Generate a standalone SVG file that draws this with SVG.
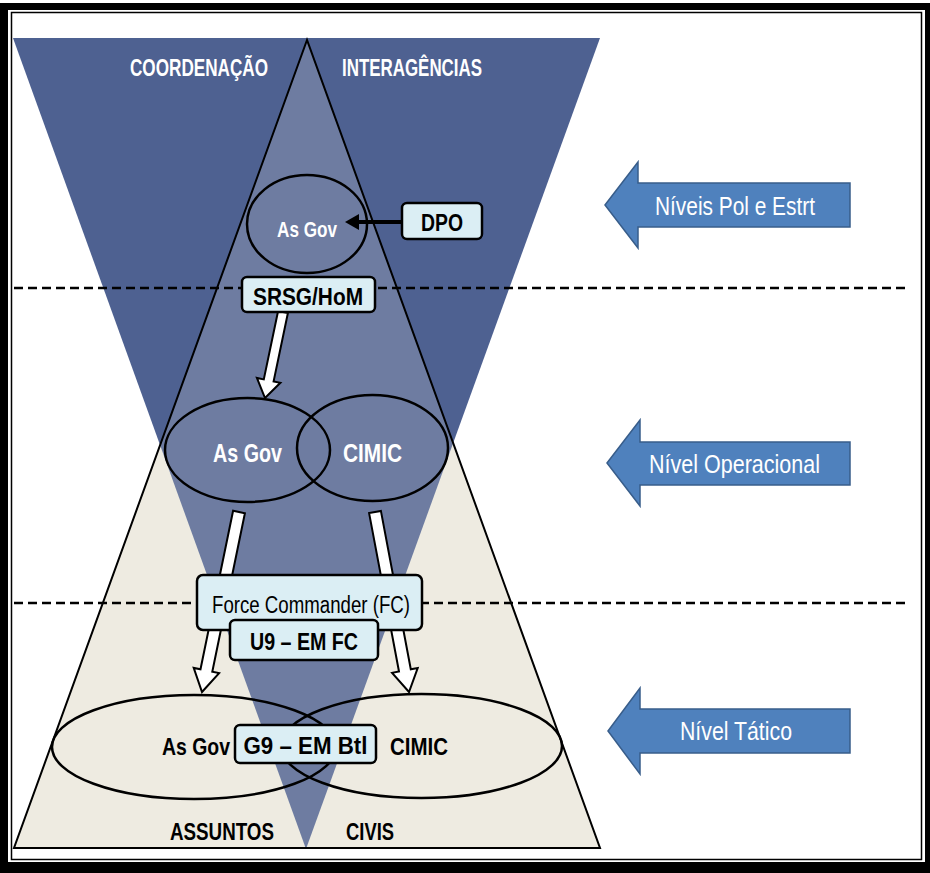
<svg xmlns="http://www.w3.org/2000/svg" width="930" height="873" viewBox="0 0 930 873">
<style>
text{font-family:"Liberation Sans",Arial,sans-serif;}
.wb{fill:#fff;font-weight:bold;}
.kb{fill:#000;font-weight:bold;}
.box{fill:#dbeef4;stroke:#000;stroke-width:2.5;}
.ell{fill:none;stroke:#000;stroke-width:2.5;}
.dash{stroke:#000;stroke-width:2.5;stroke-dasharray:9 5;fill:none;}
.hollow{fill:#fff;stroke:#000;stroke-width:2;stroke-linejoin:miter;}
.lvl{fill:#4f81bd;stroke:#385d8a;stroke-width:1.5;}
.lt{fill:#fff;font-size:26px;}
</style>
<g id="frame">
<rect x="0" y="3" width="930" height="870" fill="#000"/>
<rect x="8" y="10" width="917" height="852" fill="#fff"/>
<rect x="11.5" y="12.5" width="910" height="847" fill="none" stroke="#000" stroke-width="1.5"/>
</g>
<g id="background">
<polygon points="307,40 14,848 600,848" fill="#eeece1"/>
<polygon points="13,38 600,38 306,849" fill="#4e6191"/>
<polygon points="307,40 14,848 600,848" fill="#eeece1" fill-opacity="0.2" stroke="#000" stroke-width="2"/>
<text class="wb" x="199" y="76" font-size="24" text-anchor="middle" textLength="138" lengthAdjust="spacingAndGlyphs">COORDENAÇÃO</text>
<text class="wb" x="412" y="76" font-size="24" text-anchor="middle" textLength="140" lengthAdjust="spacingAndGlyphs">INTERAGÊNCIAS</text>
<text class="kb" x="222" y="840" font-size="24" text-anchor="middle" textLength="104" lengthAdjust="spacingAndGlyphs">ASSUNTOS</text>
<text class="kb" x="370" y="840" font-size="24" text-anchor="middle" textLength="48" lengthAdjust="spacingAndGlyphs">CIVIS</text>
<line class="dash" x1="14" y1="288" x2="905" y2="288"/>
<line class="dash" x1="14" y1="603" x2="905" y2="603"/>
</g>
<g id="connectors">
<polygon class="hollow" points="287.9,313 273.6,381.4 280.4,382.8 265,398 256.9,377.9 263.8,379.4 278.1,311"/>
<polygon class="hollow" points="244.9,513.2 212.3,671.7 219.1,673.1 202,692 193.7,667.9 200.5,669.3 233.1,510.8"/>
<polygon class="hollow" points="380.9,510.9 410.8,669.3 417.7,668 409,692 392.1,672.8 399,671.5 369.1,513.1"/>
<line x1="402" y1="222" x2="356" y2="222" stroke="#000" stroke-width="4"/>
<polygon points="345,222 359,214 359,230" fill="#000"/>
</g>
<g id="asgov-top">
<ellipse class="ell" cx="307" cy="224" rx="60" ry="49"/>
<text class="wb" x="307" y="237" font-size="22" text-anchor="middle" textLength="60" lengthAdjust="spacingAndGlyphs">As Gov</text>
</g>
<g id="dpo">
<rect class="box" x="402" y="203" width="80" height="36" rx="5"/>
<text class="kb" x="442" y="231" font-size="24" text-anchor="middle" textLength="42" lengthAdjust="spacingAndGlyphs">DPO</text>
</g>
<g id="srsg">
<rect class="box" x="242" y="277" width="133" height="35" rx="5"/>
<text class="kb" x="308" y="305" font-size="24" text-anchor="middle" textLength="110" lengthAdjust="spacingAndGlyphs">SRSG/HoM</text>
</g>
<g id="asgov-op">
<ellipse class="ell" cx="247.5" cy="450" rx="82.5" ry="52"/>
<text class="wb" x="247.5" y="462" font-size="25" text-anchor="middle" textLength="69" lengthAdjust="spacingAndGlyphs">As Gov</text>
</g>
<g id="cimic-op">
<ellipse class="ell" cx="372.5" cy="448" rx="75.5" ry="53"/>
<text class="wb" x="372.5" y="462" font-size="25" text-anchor="middle" textLength="59" lengthAdjust="spacingAndGlyphs">CIMIC</text>
</g>
<g id="fc">
<rect class="box" x="197" y="575" width="225" height="55" rx="6"/>
<text x="311" y="613" font-size="23" text-anchor="middle" textLength="198" lengthAdjust="spacingAndGlyphs" fill="#000">Force Commander (FC)</text>
</g>
<g id="u9">
<rect class="box" x="230" y="620" width="148" height="40" rx="5"/>
<text class="kb" x="304" y="650" font-size="24" text-anchor="middle" textLength="108" lengthAdjust="spacingAndGlyphs">U9 – EM FC</text>
</g>
<g id="asgov-tat">
<ellipse class="ell" cx="194" cy="747" rx="142" ry="52"/>
<text class="kb" x="196" y="755" font-size="24" text-anchor="middle" textLength="68" lengthAdjust="spacingAndGlyphs">As Gov</text>
</g>
<g id="cimic-tat">
<ellipse class="ell" cx="421.5" cy="746" rx="140.5" ry="52"/>
<text class="kb" x="419" y="755" font-size="24" text-anchor="middle" textLength="58" lengthAdjust="spacingAndGlyphs">CIMIC</text>
</g>
<g id="g9">
<rect class="box" x="235" y="725" width="141" height="38" rx="5"/>
<text class="kb" x="305.5" y="754" font-size="24" text-anchor="middle" textLength="124" lengthAdjust="spacingAndGlyphs">G9 – EM Btl</text>
</g>
<g id="nivel-pol">
<path class="lvl" d="M605,205 L638,162 L638,183 L850,183 L850,227 L638,227 L638,248 Z"/>
<text class="lt" x="735" y="215" text-anchor="middle" textLength="160" lengthAdjust="spacingAndGlyphs">Níveis Pol e Estrt</text>
</g>
<g id="nivel-op">
<path class="lvl" d="M607,463 L640,420 L640,442 L850,442 L850,485 L640,485 L640,506 Z"/>
<text class="lt" x="734.5" y="473" text-anchor="middle" textLength="171" lengthAdjust="spacingAndGlyphs">Nível Operacional</text>
</g>
<g id="nivel-tat">
<path class="lvl" d="M608,731 L640,688 L640,709 L850,709 L850,753 L640,753 L640,774 Z"/>
<text class="lt" x="736" y="740" text-anchor="middle" textLength="112" lengthAdjust="spacingAndGlyphs">Nível Tático</text>
</g>
</svg>
